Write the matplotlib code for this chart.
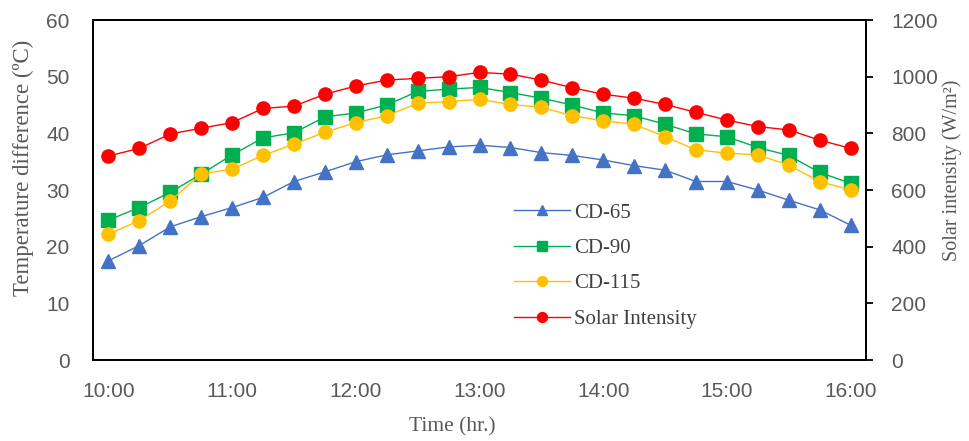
import matplotlib
matplotlib.use("Agg")
import matplotlib.pyplot as plt
import numpy as np

times = ["10:00", "10:15", "10:30", "10:45", "11:00", "11:15", "11:30", "11:45",
         "12:00", "12:15", "12:30", "12:45", "13:00", "13:15", "13:30", "13:45",
         "14:00", "14:15", "14:30", "14:45", "15:00", "15:15", "15:30", "15:45", "16:00"]
tick_labels = ["10:00", "11:00", "12:00", "13:00", "14:00", "15:00", "16:00"]

cd65 = [17.5, 20.2, 23.5, 25.3, 26.9, 28.7, 31.5, 33.2, 35.0, 36.2, 36.9, 37.6, 37.9,
        37.5, 36.6, 36.1, 35.3, 34.3, 33.5, 31.5, 31.5, 30.0, 28.2, 26.5, 23.8]
cd90 = [24.7, 26.9, 29.6, 32.8, 36.2, 39.2, 40.1, 42.9, 43.6, 45.0, 47.4, 47.8, 48.1,
        47.2, 46.2, 45.0, 43.6, 43.1, 41.6, 39.9, 39.4, 37.5, 36.1, 33.1, 31.2]
cd115 = [22.2, 24.6, 28.1, 32.8, 33.7, 36.1, 38.1, 40.2, 41.9, 43.1, 45.3, 45.6, 46.0,
         45.1, 44.6, 43.1, 42.2, 41.6, 39.4, 37.1, 36.5, 36.2, 34.4, 31.5, 30.0]
solar = [720, 747, 798, 818, 838, 888, 896, 938, 967, 988, 994, 1000, 1015,
         1009, 988, 961, 938, 924, 902, 874, 847, 824, 812, 776, 747]

x = np.arange(len(times))
tick_pos = [times.index(t) for t in tick_labels]

gray = "#595959"
serif = "Liberation Serif"
sans = "Liberation Sans"

fig = plt.figure(figsize=(9.69, 4.41), dpi=100)
ax = fig.add_axes([93/969, 1-360/441, (866-93)/969, 340/441])
ax2 = ax.twinx()

l1, = ax.plot(x, cd65, color="#4472C4", lw=1.0, marker="^", ms=9.5, label="CD-65")
l2, = ax.plot(x, cd90, color="#00B050", lw=1.0, marker="s", ms=9.5, label="CD-90")
l3, = ax.plot(x, cd115, color="#FFC000", lw=1.0, marker="o", ms=9.5, label="CD-115")
l4, = ax2.plot(x, solar, color="#FF0000", lw=1.0, marker="o", ms=9.5, label="Solar Intensity")

ax.set_xlim(-0.5, len(times) - 0.5)
ax.set_ylim(0, 60)
ax2.set_ylim(0, 1200)
ax.set_yticks(range(0, 61, 10))
ax2.set_yticks(range(0, 1201, 200))
ax.set_xticks(tick_pos)
ax.set_xticklabels(tick_labels)

for a in (ax, ax2):
    for s in a.spines.values():
        s.set_color("black")
        s.set_linewidth(1.3)

ax.tick_params(axis="y", length=0, pad=17, labelsize=15, labelcolor=gray)
ax.tick_params(axis="x", length=0, pad=16, labelsize=15, labelcolor=gray)
ax2.tick_params(axis="y", length=5, width=1.3, direction="out", pad=13,
                labelsize=15, labelcolor=gray)
for lab in ax.get_xticklabels() + ax.get_yticklabels() + ax2.get_yticklabels():
    lab.set_fontfamily(sans)

fig.text(23/969, 1-168/441, "Temperature difference (ºC)", rotation=90,
         ha="center", va="center", fontsize=16.5, family=serif, color=gray)
fig.text(952/969, 1-170/441, "Solar intensity (W/m²)", rotation=90,
         ha="center", va="center", fontsize=14.5, family=serif, color=gray)
fig.text(452/969, 1-427/441, "Time (hr.)", ha="center", va="center",
         fontsize=15.5, family=serif, color=gray)

leg = fig.legend(handles=[l1, l2, l3, l4], loc="upper left",
                 bbox_to_anchor=(514/969, 1-203/441), frameon=False,
                 prop={"family": serif, "size": 15}, handlelength=2.7,
                 handletextpad=0.2, labelspacing=0.76, markerscale=0.75,
                 borderpad=0, borderaxespad=0)
for t in leg.get_texts():
    t.set_color("#404040")

fig.savefig("out.png", dpi=100)
